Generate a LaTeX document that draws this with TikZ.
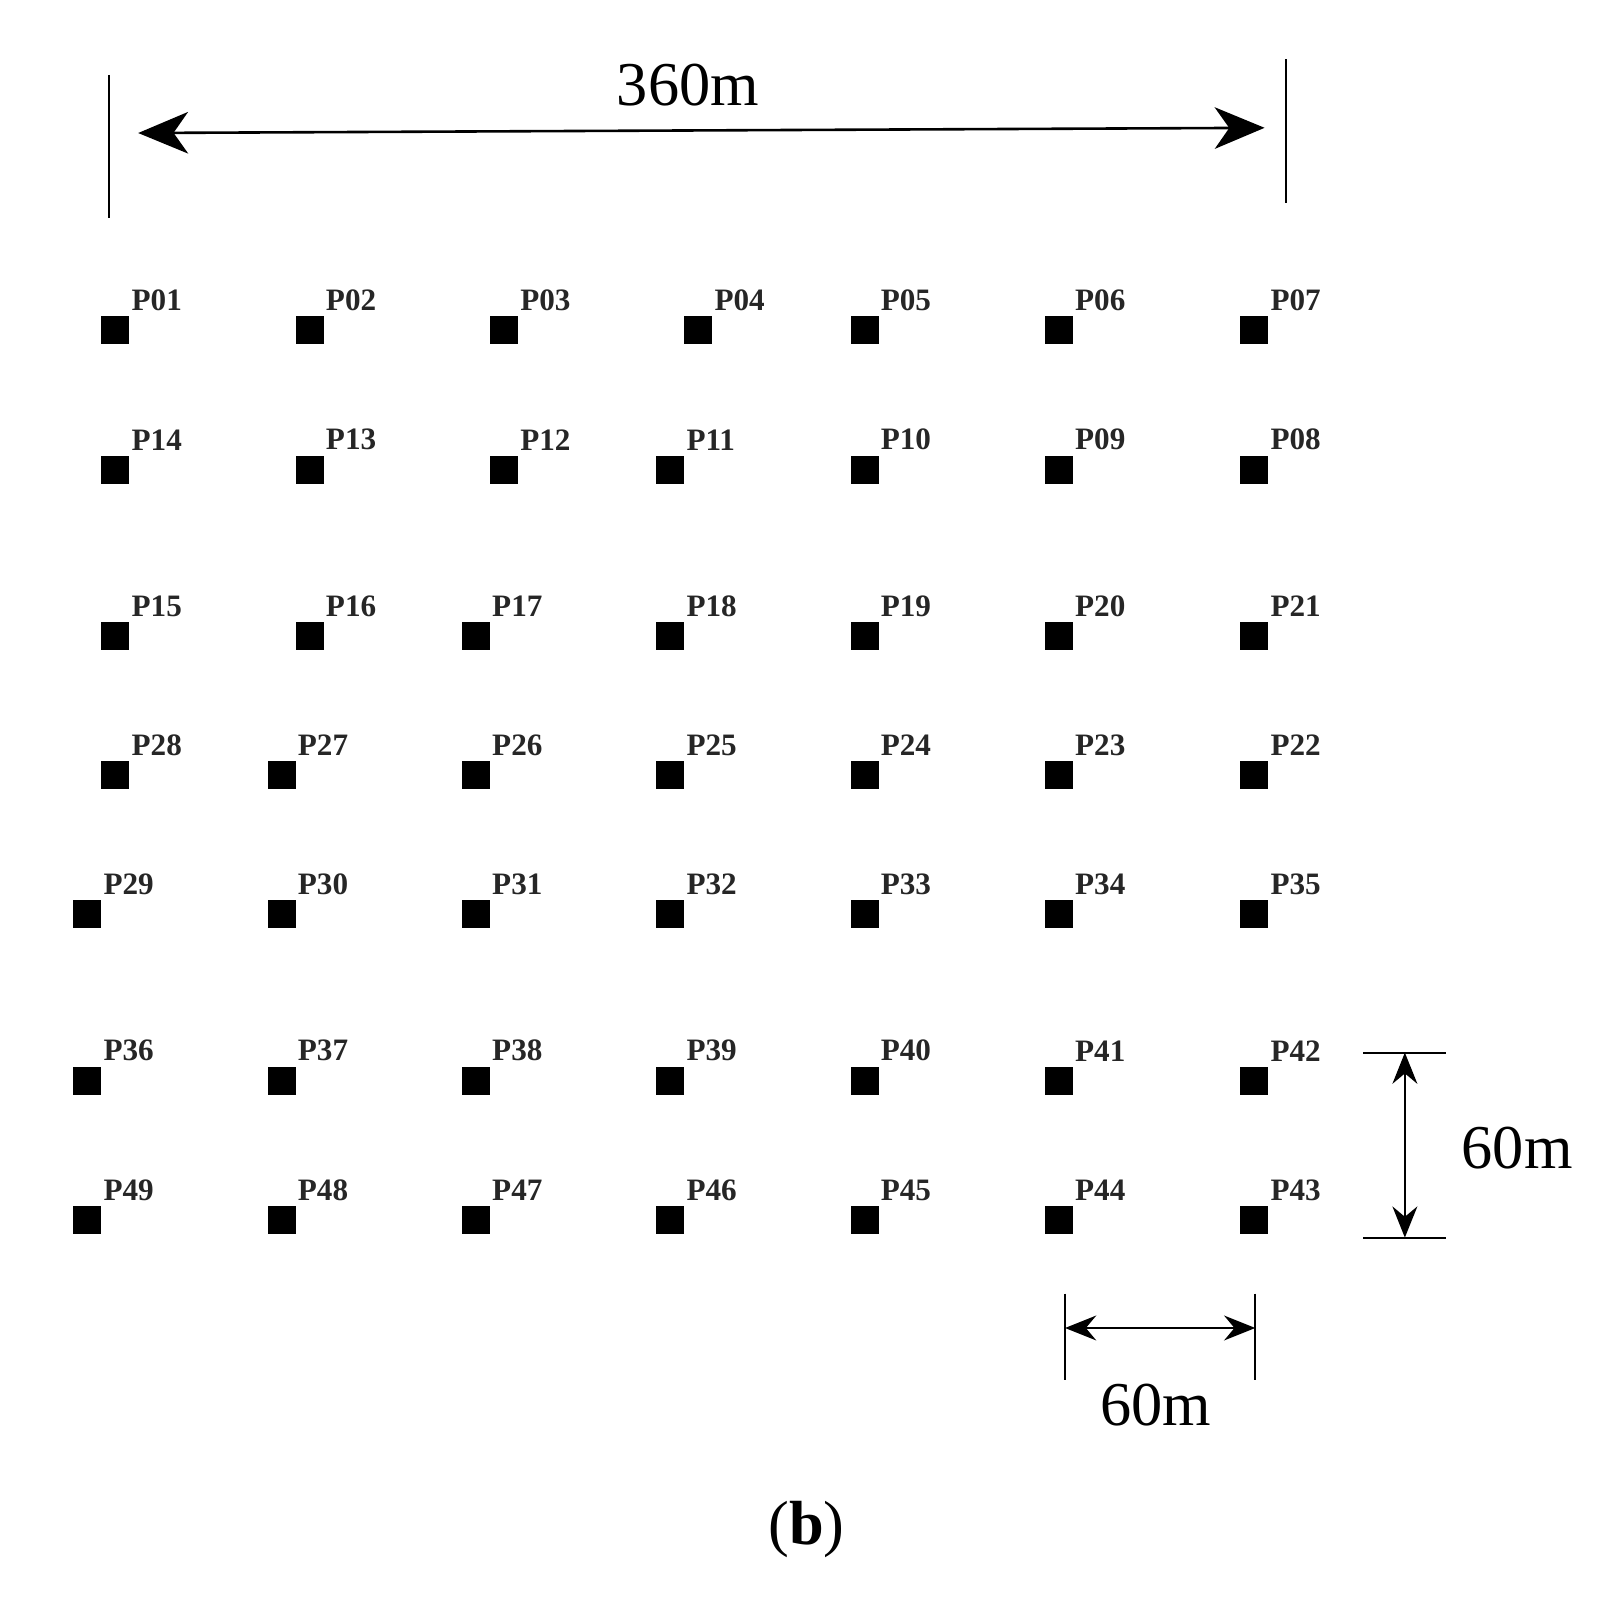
\documentclass[tikz,border=0pt]{standalone}
\usepackage{fontspec}
\setmainfont{Liberation Serif}
\usetikzlibrary{arrows.meta}
\begin{document}
\begin{tikzpicture}[x=1pt,y=-1pt,
  sq/.style={fill=black,minimum size=27pt,inner sep=0pt,outer sep=0pt},
  lab/.style={font=\fontsize{30}{30}\selectfont\bfseries,inner sep=0pt,anchor=south west,text=black!85},
  dim/.style={line width=2.5pt},
  big/.style={font=\fontsize{60}{60}\selectfont,inner sep=0pt}]
\useasboundingbox (0,0) rectangle (1560,1543);
\def\colsA{111,298,485,672,832,1019,1207}
\def\colsB{111,298,485,645,832,1019,1207}
\def\colsC{111,298,458,645,832,1019,1207}
\def\colsD{111,271,458,645,832,1019,1207}
\def\colsE{84,271,458,645,832,1019,1207}
\foreach \x [count=\i] in \colsA {\node[sq] (s1\i) at (\x,318) {};}
\foreach \x [count=\i] in \colsB {\node[sq] (s2\i) at (\x,452) {};}
\foreach \x [count=\i] in \colsC {\node[sq] (s3\i) at (\x,612) {};}
\foreach \x [count=\i] in \colsD {\node[sq] (s4\i) at (\x,746) {};}
\foreach \x [count=\i] in \colsE {\node[sq] (s5\i) at (\x,880) {};}
\foreach \x [count=\i] in \colsE {\node[sq] (s6\i) at (\x,1040) {};}
\foreach \x [count=\i] in \colsE {\node[sq] (s7\i) at (\x,1174) {};}
\foreach \r/\labs in {1/{P01,P02,P03,P04,P05,P06,P07},2/{P14,P13,P12,P11,P10,P09,P08},3/{P15,P16,P17,P18,P19,P20,P21},4/{P28,P27,P26,P25,P24,P23,P22},5/{P29,P30,P31,P32,P33,P34,P35},6/{P36,P37,P38,P39,P40,P41,P42},7/{P49,P48,P47,P46,P45,P44,P43}}{
  \foreach \t [count=\i] in \labs {\node[lab] (l\r\i) at ([xshift=2pt,yshift=5pt]s\r\i.north east) {\t};}
}
\coordinate (t1a) at (105,72); \coordinate (t1b) at (105,210);
\coordinate (t2a) at (1238,57); \coordinate (t2b) at (1238,195);
\draw[line width=2pt] (t1a) -- (t1b);
\draw[line width=2pt] (t2a) -- (t2b);
\coordinate (ta) at (133,128); \coordinate (tb) at (1217,123);
\draw[dim,{Stealth[length=48pt,width=40pt,inset=14pt]}-{Stealth[length=48pt,width=40pt,inset=14pt]}] (ta) -- (tb);
\node[big] (t360) at (662,82) {360m};
\coordinate (r1a) at (1312,1013); \coordinate (r1b) at (1392,1013);
\coordinate (r2a) at (1312,1191); \coordinate (r2b) at (1392,1191);
\draw[line width=2pt] (r1a) -- (r1b);
\draw[line width=2pt] (r2a) -- (r2b);
\coordinate (ra) at (1352,1013); \coordinate (rb) at (1352,1191);
\draw[line width=2pt,{Stealth[length=30pt,width=24pt,inset=10pt]}-{Stealth[length=30pt,width=24pt,inset=10pt]}] (ra) -- (rb);
\node[big] (r60) at (1460,1105) {60m};
\coordinate (b1a) at (1025,1245); \coordinate (b1b) at (1025,1328);
\coordinate (b2a) at (1208,1245); \coordinate (b2b) at (1208,1328);
\draw[line width=2pt] (b1a) -- (b1b);
\draw[line width=2pt] (b2a) -- (b2b);
\coordinate (ba) at (1025,1278); \coordinate (bb) at (1208,1278);
\draw[line width=2pt,{Stealth[length=30pt,width=24pt,inset=10pt]}-{Stealth[length=30pt,width=24pt,inset=10pt]}] (ba) -- (bb);
\node[big] (b60) at (1112,1352) {60m};
\node[big] (cap) at (776,1472) {(\textbf{b})};
\end{tikzpicture}
\end{document}
